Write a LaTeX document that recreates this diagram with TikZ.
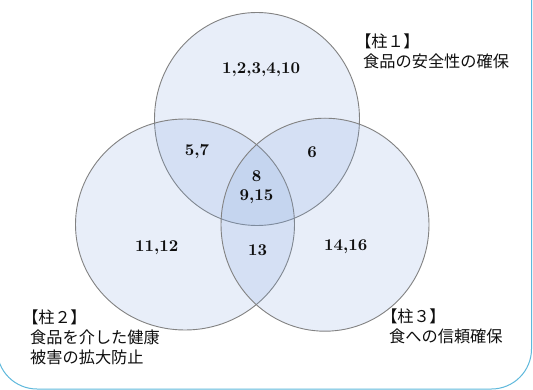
\documentclass[tikz,border=0pt]{standalone}
\usepackage{fontspec}
\usetikzlibrary{shapes.geometric}
\newfontfamily\jp{Noto Sans CJK JP}
\newfontfamily\jpp[RawFeature=+palt]{Noto Sans CJK JP}
\newfontfamily\numfont{lmroman10-bold.otf}
\definecolor{framecol}{RGB}{95,185,220}
\definecolor{setfill}{RGB}{120,160,220}
\definecolor{setline}{RGB}{130,130,130}
\definecolor{txt}{RGB}{15,15,15}
\tikzset{
  vset/.style={ellipse, draw=setline, line width=0.9pt, fill=setfill, fill opacity=0.17, inner sep=0pt},
  num/.style={font=\numfont\fontsize{16.5}{19}\selectfont, text=txt, inner sep=0pt, align=center},
  lab/.style={font=\jp\fontsize{16.2}{20}\selectfont, text=txt, inner sep=0pt, align=left, anchor=west},
  framebox/.style={draw=framecol, line width=1pt, rounded corners=40pt}
}
\begin{document}
\begin{tikzpicture}[x=1pt,y=-1pt]
\useasboundingbox (0,0) rectangle (533,390);
\fill[white] (0,0) rectangle (533,390);
\draw[framebox] (-3,-60) rectangle (531.5,389);
\node[vset, minimum width=205pt, minimum height=213pt] (s1) at (257,119) {};
\node[vset, minimum width=219pt, minimum height=211pt] (s2) at (185,224.5) {};
\node[vset, minimum width=208pt, minimum height=213pt] (s3) at (325,224.7) {};
\node[num] (n1) at (261,70) {1,2,3,4,10};
\node[num] (n57) at (197,152) {5,7};
\node[num] (n6) at (312,152) {6};
\node[num] (n8) at (256.6,176) {8};
\node[num] (n915) at (256.6,197) {9,15};
\node[num] (n1112) at (156.7,248) {11,12};
\node[num] (n13) at (257.6,250) {13};
\node[num] (n1416) at (345.8,247) {14,16};
\node[lab] (l1) at (363,51) {{\jpp【}柱１{\jpp】}\\食品の安全性の確保};
\node[lab] (l2) at (30,337.5) {{\jpp【}柱２{\jpp】}\\食品を介した健康\\被害の拡大防止};
\node[lab] (l3) at (389,326.5) {{\jpp【}柱３{\jpp】}\\食への信頼確保};
\end{tikzpicture}
\end{document}
